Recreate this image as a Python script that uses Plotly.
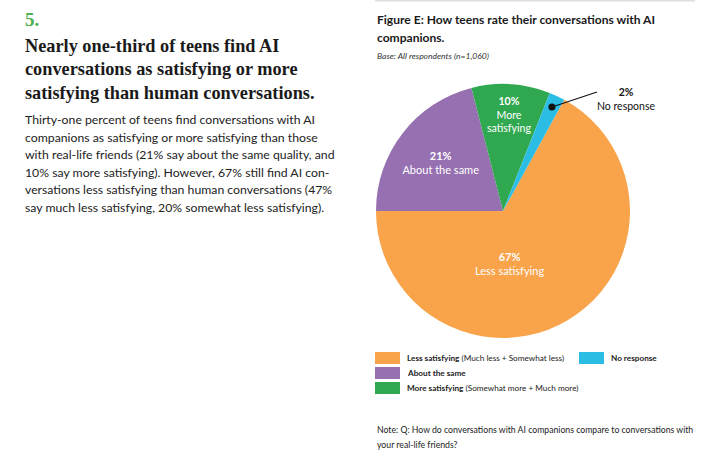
import math
import plotly.graph_objects as go

W, H = 707, 458

# data
labels = ["Less satisfying", "About the same", "More satisfying", "No response"]
slice_text = ["Less satisfying", "About the same", "More<br>satisfying", ""]
values = [67, 21, 10, 2]
colors = ["#F9A34A", "#9670B0", "#2FA84F", "#2CBDE5"]
legend_notes = ["(Much less + Somewhat less)", "", "(Somewhat more + Much more)", ""]

heading = ["Nearly one-third of teens find AI",
           "conversations as satisfying or more",
           "satisfying than human conversations."]
body = ["Thirty-one percent of teens find conversations with AI",
        "companions as satisfying or more satisfying than those",
        "with real-life friends (21% say about the same quality, and",
        "10% say more satisfying). However, 67% still find AI con-",
        "versations less satisfying than human conversations (47%",
        "say much less satisfying, 20% somewhat less satisfying)."]


def px(x):
    return x / W


def py(y):
    return 1 - y / H


# pie box in pixels
cx, cy, R = 503, 211, 127
rotation = 28.8

fig = go.Figure(go.Pie(
    labels=labels, values=values, text=slice_text,
    marker=dict(colors=colors, line=dict(width=0)),
    sort=False, direction="clockwise", rotation=rotation,
    texttemplate="<b>%{value}%</b><br>%{text}",
    textposition=["none", "inside", "inside", "none"],
    insidetextorientation="horizontal",
    textfont=dict(family="Lato", size=11, color="white"),
    hoverinfo="label+percent",
    domain=dict(x=[px(cx - R), px(cx + R)], y=[py(cy + R), py(cy - R)]),
    showlegend=False,
))

ann = []
ann.append(dict(x=px(23), y=py(19), text="<b>5.</b>", font=dict(family="Liberation Serif", size=19, color="#4CAF50")))
for i, line in enumerate(heading):
    ann.append(dict(x=px(23), y=py(46 + i * 23.4), text="<b>%s</b>" % line,
                    font=dict(family="Liberation Serif", size=18.3, color="#1a1a1a")))
for i, line in enumerate(body):
    ann.append(dict(x=px(23), y=py(120 + i * 17.5), text=line,
                    font=dict(family="Lato", size=12.25, color="#222")))

ann.append(dict(x=px(375), y=py(20), text="<b>Figure E: How teens rate their conversations with AI</b>",
                font=dict(family="Lato", size=12.05, color="#1a1a1a")))
ann.append(dict(x=px(375), y=py(37), text="<b>companions.</b>",
                font=dict(family="Lato", size=12.05, color="#1a1a1a")))
ann.append(dict(x=px(375), y=py(56), text="<i>Base: All respondents (n=1,060)</i>",
                font=dict(family="Lato", size=8.5, color="#333")))

# big slice label (placed like the original, off the bisector)
ann.append(dict(x=px(509), y=py(263), xanchor="center",
                text="<b>%d%%</b><br>%s" % (values[0], slice_text[0]),
                font=dict(family="Lato", size=11, color="white")))

# No response callout: dot at middle of its slice
start = 90 - rotation
acc = sum(values[:3])
mid = start - 360 * (acc + values[3] / 2) / sum(values)
dx = cx + 0.905 * R * math.cos(math.radians(mid))
dy = cy - 0.905 * R * math.sin(math.radians(mid))
ann.append(dict(x=px(dx), y=py(dy), text=" ", showarrow=True, arrowhead=6, arrowsize=1.6,
                arrowwidth=1.1, arrowcolor="#111", ax=600 - dx, ay=91 - dy, standoff=0, startstandoff=0,
                xanchor="center", yanchor="middle"))
ann.append(dict(x=px(626), y=py(99), text="<b>%d%%</b><br>%s" % (values[3], labels[3]),
                xanchor="center", font=dict(family="Lato", size=10.5, color="#111")))

# legend drawn by hand (column layout)
shapes = [dict(type="line", xref="paper", yref="paper", x0=px(375), x1=px(695), y0=py(0.8), y1=py(0.8),
               line=dict(color="#dddddd", width=1.5))]
slots = [(375, 358), (375, 373), (375, 388), (579, 358)]
for (lx, ly), lab, note, col in zip(slots, labels, legend_notes, colors):
    shapes.append(dict(type="rect", xref="paper", yref="paper", x0=px(lx), x1=px(lx + 25),
                       y0=py(ly + 6), y1=py(ly - 6), fillcolor=col, line=dict(width=0)))
    t = "<b>%s</b>" % lab + (" " + note if note else "")
    ann.append(dict(x=px(lx + 30), y=py(ly), text=t, font=dict(family="Lato", size=8.2, color="#222")))

ann.append(dict(x=px(375), y=py(429), text="Note: Q: How do conversations with AI companions compare to conversations with",
                font=dict(family="Lato", size=8.7, color="#222")))
ann.append(dict(x=px(375), y=py(444), text="your real-life friends?",
                font=dict(family="Lato", size=8.7, color="#222")))

for a in ann:
    a.setdefault("xref", "paper")
    a.setdefault("yref", "paper")
    a.setdefault("xanchor", "left")
    a.setdefault("yanchor", "middle")
    a.setdefault("showarrow", False)

fig.update_layout(width=W, height=H, margin=dict(l=0, r=0, t=0, b=0),
                  paper_bgcolor="white", plot_bgcolor="white",
                  annotations=ann, shapes=shapes)

# page body has a default 8px margin, drop it so the figure sits at 0,0
fig.write_html("out.html", config={"displayModeBar": False},
               post_script="document.body.style.margin='0px';")
